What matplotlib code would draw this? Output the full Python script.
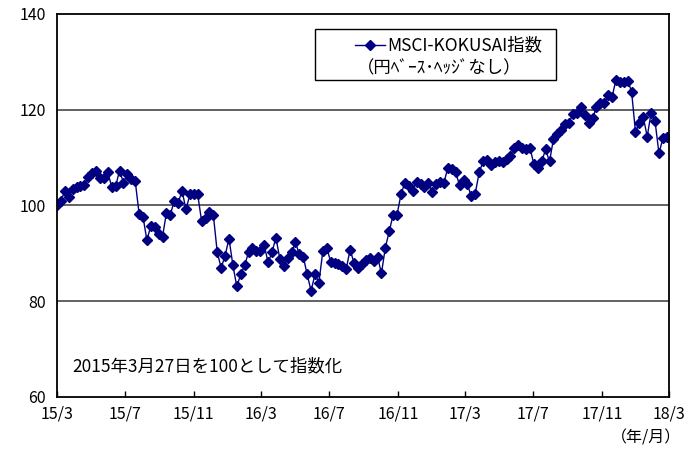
import numpy as np
import matplotlib
matplotlib.use('agg')
import matplotlib.pyplot as plt
import matplotlib.patches as patches
from matplotlib.lines import Line2D
import pandas as pd

plt.rcParams['font.family'] = ['Noto Sans CJK JP', 'DejaVu Sans']

# weekly index values, 2015/3/27 = 100
values = [100, 100.9, 103, 101.7, 103.5, 103.8, 104, 104.3, 106, 106.8,
          107.3, 105.8, 105.7, 106.9, 103.9, 104, 107.3, 104.8, 106.5, 105.6,
          105.2, 98.3, 97.7, 92.7, 95.8, 95.6, 94, 93.5, 98.5, 98.1,
          101, 100.6, 103, 99.2, 102.3, 102.3, 102.3, 96.7, 97.3, 98.7,
          98, 90.2, 87, 89.5, 93.1, 87.5, 83.1, 85.6, 87.5, 90.2,
          91.2, 90.6, 90.6, 91.8, 88.1, 90.2, 93.3, 88.9, 87.3, 89,
          90.2, 92.3, 89.8, 89.3, 85.6, 82.2, 85.6, 83.9, 90.4, 91.2,
          88.3, 87.9, 87.7, 87.3, 86.8, 90.8, 87.9, 87, 87.7, 88.7,
          89.1, 88.5, 89.3, 85.8, 91.2, 94.6, 98.1, 98.1, 102.3, 104.8,
          104, 103.1, 105, 104.4, 103.8, 104.8, 102.9, 104.4, 105, 104.8,
          107.9, 107.7, 106.9, 104.2, 105.4, 104.4, 101.9, 102.5, 106.9, 109.2,
          109.6, 108.4, 109, 109.2, 109, 109.8, 110.4, 112.1, 112.7, 112.1,
          111.9, 112.1, 108.6, 107.9, 109.2, 111.7, 109.2, 113.8, 115, 115.7,
          117.1, 117.3, 119.2, 119.4, 120.5, 119, 117.3, 118.2, 120.5, 121.5,
          121.5, 123, 122.6, 126.3, 125.7, 125.9, 126.1, 123.8, 115.3, 117.3,
          118.4, 114.4, 119.4, 117.6, 110.9, 114, 114.4]
dates = pd.date_range('2015-03-27', periods=len(values), freq='7D')
tick_dates = pd.date_range('2015-03-27', periods=10, freq=pd.DateOffset(months=4))
tick_labels = [f'{d.year % 100}/{d.month}' for d in tick_dates]
yticks = [60, 80, 100, 120, 140]

series_label = 'MSCI-KOKUSAI指数'
series_label2 = '（円ﾍﾞｰｽ･ﾍｯｼﾞなし）'
note = '2015年3月27日を100として指数化'

navy = '#000080'

fig = plt.figure(figsize=(6.86, 4.51), dpi=100)
ax = fig.add_axes([57 / 686, 1 - 397 / 451, 612 / 686, 383 / 451])

ax.plot(dates, values, color=navy, lw=1, marker='D', ms=4.8,
        markeredgecolor=navy, markerfacecolor=navy)

ax.set_xlim(tick_dates[0], tick_dates[-1])
ax.set_ylim(60, 140)
ax.set_xticks(tick_dates)
ax.set_xticklabels(tick_labels)
ax.set_yticks(yticks)
ax.tick_params(axis='x', direction='in', length=4, width=1, labelsize=11.5, pad=6)
ax.tick_params(axis='y', length=0, labelsize=11.5, pad=8)
for y in [80, 100, 120]:
    ax.axhline(y, color='#555555', lw=1.3, zorder=0)
for s in ax.spines.values():
    s.set_linewidth(1.3)
    s.set_color('black')

# legend box
ax.add_patch(patches.Rectangle((0.4216, 0.828), 0.393, 0.133, transform=ax.transAxes,
                               fill=False, edgecolor='black', lw=1, zorder=5))
ax.add_line(Line2D([0.487, 0.536], [0.919, 0.919], transform=ax.transAxes,
                   color=navy, lw=1, zorder=6))
ax.add_line(Line2D([0.5115], [0.919], transform=ax.transAxes, marker='D', ms=4.8,
                   color=navy, lw=0, zorder=6))
ax.text(0.540, 0.919, series_label, transform=ax.transAxes, fontsize=12.5, va='center', ha='left')
ax.text(0.625, 0.859, series_label2, transform=ax.transAxes, fontsize=12.5, va='center', ha='center')

ax.text(0.025, 0.08, note, transform=ax.transAxes, fontsize=12.5, va='center', ha='left')
fig.text(681 / 686, 1 - 438 / 451, '（年/月）', fontsize=11.5, ha='right', va='center')

fig.savefig('out.png', dpi=100)
